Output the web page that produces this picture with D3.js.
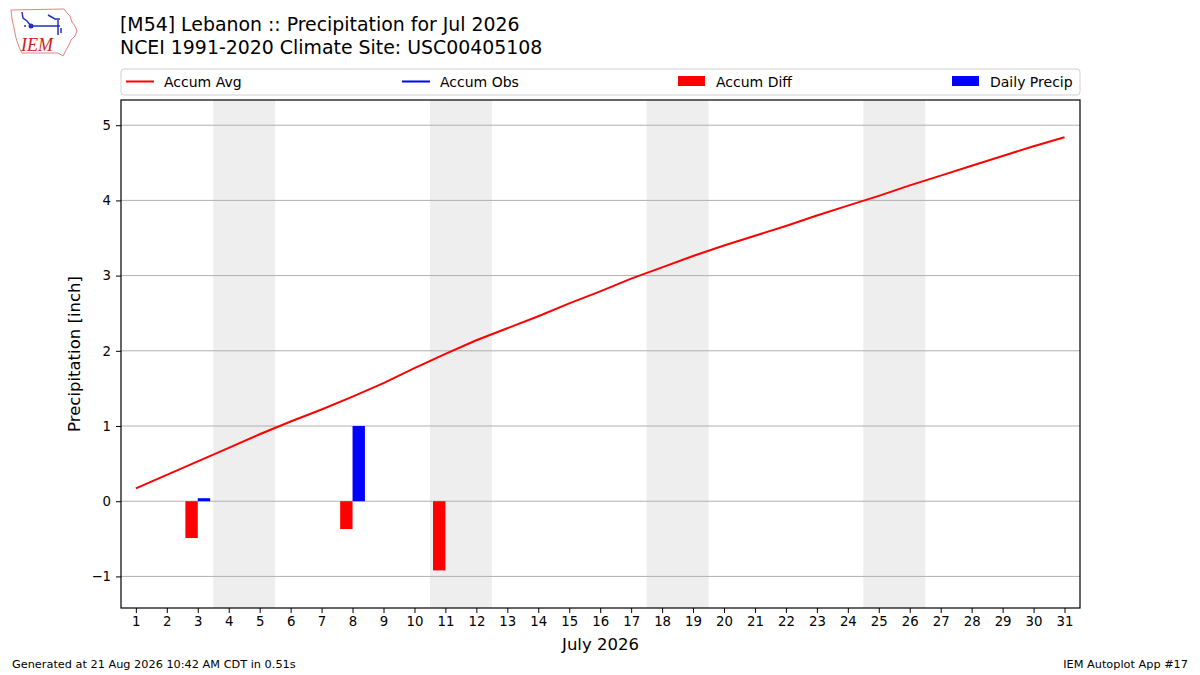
<!DOCTYPE html>
<html>
<head>
<meta charset="utf-8">
<script src="https://cdn.jsdelivr.net/npm/d3@7"></script>
<style>
  body { margin: 0; background: #fff; }
  svg { font-family: "DejaVu Sans", sans-serif; }
</style>
</head>
<body>
<svg id="chart" width="1200" height="675"></svg>
<script>
// ---- data ----
const days = d3.range(1, 32);
const accumAvg = [0.17, 0.35, 0.53, 0.71, 0.89, 1.06, 1.22, 1.39, 1.57, 1.77,
                  1.96, 2.14, 2.30, 2.46, 2.63, 2.79, 2.96, 3.11, 3.26, 3.40,
                  3.53, 3.66, 3.80, 3.93, 4.06, 4.20, 4.33, 4.46, 4.59, 4.72, 4.84];
const accumObs = [];            // not drawn in reference
const diffDays = [3, 8, 11];
const diffVals = [-0.49, -0.37, -0.92];
const precipDays = [3, 8];
const precipVals = [0.04, 1.00];
const weekendStarts = [4, 11, 18, 25];
const yTicks = [-1, 0, 1, 2, 3, 4, 5];
const titleLines = ["[M54] Lebanon :: Precipitation for Jul 2026", "NCEI 1991-2020 Climate Site: USC00405108"];

const svg = d3.select("#chart");
const L = 121, R = 1080, T = 100, B = 608;
const x = d3.scaleLinear().domain([0.52, 31.5]).range([L, R]);
const y = d3.scaleLinear().domain([-1.42, 5.335]).range([B, T]);

// weekend shading
svg.append("g").selectAll("rect").data(weekendStarts).join("rect")
  .attr("x", d => x(d - 0.5)).attr("width", d => x(d + 1.5) - x(d - 0.5))
  .attr("y", T).attr("height", B - T).attr("fill", "#eeeeee");

// gridlines
svg.append("g").selectAll("line").data(yTicks).join("line")
  .attr("x1", L).attr("x2", R).attr("y1", d => y(d)).attr("y2", d => y(d))
  .attr("stroke", "#b0b0b0").attr("stroke-width", 1);

// bars
const bw = 0.4;
svg.append("g").selectAll("rect").data(diffDays.map((d, i) => [d, diffVals[i]])).join("rect")
  .attr("x", d => x(d[0] - bw)).attr("width", d => x(d[0]) - x(d[0] - bw))
  .attr("y", d => y(Math.max(0, d[1]))).attr("height", d => Math.abs(y(d[1]) - y(0)))
  .attr("fill", "#ff0000");
svg.append("g").selectAll("rect").data(precipDays.map((d, i) => [d, precipVals[i]])).join("rect")
  .attr("x", d => x(d[0])).attr("width", d => x(d[0] + bw) - x(d[0]))
  .attr("y", d => y(Math.max(0, d[1]))).attr("height", d => Math.abs(y(d[1]) - y(0)))
  .attr("fill", "#0000ff");

// lines
const line = d3.line().x(d => x(d[0])).y(d => y(d[1]));
svg.append("path").datum(days.map((d, i) => [d, accumAvg[i]]))
  .attr("d", line).attr("fill", "none").attr("stroke", "#ff0000").attr("stroke-width", 2);
if (accumObs.length) {
  svg.append("path").datum(accumObs.map((v, i) => [i + 1, v]))
    .attr("d", line).attr("fill", "none").attr("stroke", "#0000ff").attr("stroke-width", 2);
}

// frame
svg.append("rect").attr("x", L).attr("y", T).attr("width", R - L).attr("height", B - T)
  .attr("fill", "none").attr("stroke", "#000").attr("stroke-width", 1.2);

// axes
const xAxis = svg.append("g").attr("transform", `translate(0,${B})`)
  .call(d3.axisBottom(x).tickValues(days).tickSize(5).tickPadding(4).tickFormat(d3.format("d")));
const yAxis = svg.append("g").attr("transform", `translate(${L},0)`)
  .call(d3.axisLeft(y).tickValues(yTicks).tickSize(5).tickPadding(5)
    .tickFormat(d => d < 0 ? "\u2212" + Math.abs(d) : d));
[xAxis, yAxis].forEach(g => {
  g.select(".domain").remove();
  g.selectAll("text").attr("font-size", 13.3).attr("fill", "#000").attr("font-family", "DejaVu Sans");
  g.selectAll("line").attr("stroke", "#000");
});

svg.append("text").attr("x", (L + R) / 2).attr("y", 650).attr("text-anchor", "middle")
  .attr("font-size", 16.5).text("July 2026");
svg.append("text").attr("transform", `translate(80,${(T + B) / 2}) rotate(-90)`)
  .attr("text-anchor", "middle").attr("font-size", 16.5).text("Precipitation [inch]");

// title
svg.append("g").selectAll("text").data(titleLines).join("text")
  .attr("x", 120).attr("y", (d, i) => 31 + i * 23).attr("font-size", 18.9).text(d => d);

// legend
const lg = svg.append("g");
lg.append("rect").attr("x", 121).attr("y", 69).attr("width", 959).attr("height", 26)
  .attr("rx", 3).attr("fill", "#fff").attr("stroke", "#d0d0d0");
const legendItems = [
  { label: "Accum Avg", color: "#ff0000", type: "line", x: 126 },
  { label: "Accum Obs", color: "#0000ff", type: "line", x: 402 },
  { label: "Accum Diff", color: "#ff0000", type: "rect", x: 678 },
  { label: "Daily Precip", color: "#0000ff", type: "rect", x: 952 }
];
legendItems.forEach(it => {
  if (it.type === "line") {
    lg.append("line").attr("x1", it.x).attr("x2", it.x + 28).attr("y1", 81.5).attr("y2", 81.5)
      .attr("stroke", it.color).attr("stroke-width", 2);
  } else {
    lg.append("rect").attr("x", it.x).attr("y", 76).attr("width", 27).attr("height", 10).attr("fill", it.color);
  }
  lg.append("text").attr("x", it.x + 38).attr("y", 86.5).attr("font-size", 14).text(it.label);
});

// footer
svg.append("text").attr("x", 12).attr("y", 668).attr("font-size", 11.3).text("Generated at 21 Aug 2026 10:42 AM CDT in 0.51s");
svg.append("text").attr("x", 1188).attr("y", 668).attr("text-anchor", "end").attr("font-size", 11.3).text("IEM Autoplot App #17");

// logo (approximation)
const logo = svg.append("g");
logo.append("path")
  .attr("d", "M11,10 L64,9 L67,13 L70,16 L72,22 L75,26 L77,31 L75,36 L71,40 L69,45 L66,50 L63,56 L58,53 L22,53 L19,47 L16,38 L14,28 L12,19 Z")
  .attr("fill", "none").attr("stroke", "#e88080").attr("stroke-width", 1);
logo.append("path").attr("d", "M30,26 L60,26 M58,20 L58,35 M61,28 L61,33 M48,15 L55,19 L60,19 M22,12 L23,18 L27,21 L31,26")
  .attr("fill", "none").attr("stroke", "#2030c0").attr("stroke-width", 1.5);
logo.append("circle").attr("cx", 31).attr("cy", 26).attr("r", 2.5).attr("fill", "#2030c0");
logo.append("circle").attr("cx", 25).attr("cy", 26).attr("r", 1).attr("fill", "#2030c0");
logo.append("text").attr("x", 21).attr("y", 51).attr("font-family", "Liberation Serif, serif")
  .attr("font-style", "italic").attr("font-size", 18).attr("fill", "#d02020").text("IEM");
</script>
</body>
</html>
